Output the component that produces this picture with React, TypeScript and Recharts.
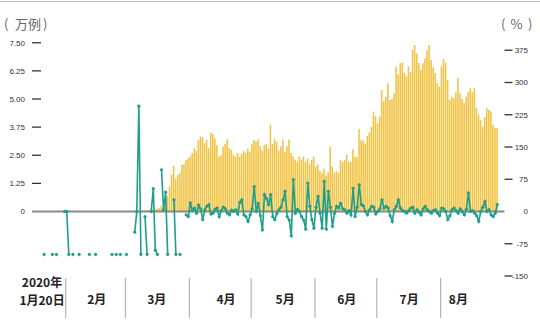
import { Bar, ComposedChart, Line, ReferenceLine, XAxis, YAxis } from "recharts";

// 每日新增病例（万例），2020-01-20 起
const casesJan = [0, 0, 0, 0, 0, 0, 0, 0, 0, 0, 0, 0];
const casesFeb = [
  0, 0, 0, 0, 0, 0, 0, 0, 0, 0, 0, 0, 0, 0, 0, 0, 0, 0, 0, 0, 0, 0, 0, 0, 0, 0,
  0, 0, 0,
];
const casesMar = [
  0, 0, 0, 0, 0.01, 0.01, 0.02, 0.03, 0.04, 0.05, 0.06, 0.07, 0.08, 0.09, 0.1,
  0.12, 0.15, 0.25, 0.3, 0.45, 0.7, 1.1, 1.63, 2.03, 1.45, 1.64, 1.7, 2.07, 2.1,
  2.29, 2.35,
];
const casesApr = [
  2.44, 2.59, 2.81, 2.7, 3.18, 3.33, 3.3, 3.04, 3.18, 2.81, 3.51, 3.45, 3.26,
  2.96, 2.44, 2.5, 2.89, 3.0, 3.21, 2.81, 2.75, 2.52, 2.44, 2.6, 2.45, 2.55, 2.7,
  2.6, 2.8, 2.65,
];
const casesMay = [
  3.0, 3.18, 3.1, 3.2, 2.9, 2.7, 2.96, 3.0, 2.8, 3.85, 3.0, 3.21, 3.1, 2.7, 2.9,
  3.2, 2.66, 2.9, 3.21, 2.6, 2.44, 2.3, 2.2, 2.44, 2.3, 2.44, 2.2, 2.35, 2.1, 2.3,
  2.44,
];
const casesJun = [
  2.0, 2.1, 1.8, 1.7, 1.9, 1.6, 1.75, 2.89, 2.0, 1.72, 1.8, 1.72, 2.29, 2.2,
  2.29, 2.52, 2.22, 2.2, 2.77, 2.44, 2.4, 3.66, 3.18, 3.15, 3.0, 3.36, 3.5, 3.77,
  4.44, 4.22,
];
const casesJul = [
  3.92, 4.22, 5.4, 4.9, 5.1, 5.7, 4.96, 5.0, 5.25, 6.44, 6.1, 6.59, 6.62, 6.15,
  6.0, 6.45, 6.2, 7.18, 7.4, 7.03, 6.6, 6.29, 6.59, 6.8, 7.18, 7.4, 6.73, 6.4,
  6.15, 5.7, 5.55,
];
const casesAug = [
  6.45, 6.78, 6.62, 5.85, 4.96, 5.1, 5.03, 5.3, 5.96, 5.25, 5.0, 4.82, 5.1, 5.3,
  5.5, 5.3, 5.48, 4.6, 4.3, 4.07, 3.77, 4.2, 4.59, 4.51, 4.44, 3.85, 3.7, 3.7,
];

// 新增病例日环比（%），null 表示无数据
const rateJan = [null, -100, null, null, null, -100, null, -100, null, null, null, 0];
const rateFeb = [
  0, -100, null, -100, null, null, -100, null, null, null, null, -100, null,
  null, -100, null, null, null, null, null, null, null, -100, null, -100, null,
  -100, null, null,
];
const rateMar = [
  -100, null, null, null, -48, 0, 245, -100, null, -12, -100, null, 0, 53, -90,
  -100, null, 97, 4, 45, -100, null, null, 27, -100, null, -100, null, null, -8,
  -12,
];
const rateApr = [
  20, 2, 8, -4, 15, 6, -19, 4, 12, 16, -6, -4, 5, 8, -12, 2, 10, 6, -4, -8, 3, 0,
  4, -6, 21, 27, -8, -12, -23, -8,
];
const rateMay = [
  6, 58, 0, 19, -10, -43, 39, 30, 16, 39, -12, -19, -5, 4, 10, 27, 47, -12, -20,
  -57, 74, -4, 5, 0, -12, -20, -41, 66, 12, -19, -39,
];
const rateJun = [
  10, 35, -4, -39, 70, -41, 47, 10, -35, -4, 12, 8, 19, 6, 4, -4, 2, -8, 54, -12,
  10, 62, 16, 13, 0, -8, 4, 12, 10, -6,
];
const rateJul = [
  0, 6, 27, 8, 12, 8, -10, -23, 4, 12, 27, 8, 2, 0, -4, 2, 8, 10, -4, 4, -2, -8,
  6, 12, 4, 0, -4, 2, 4, -4, -10,
];
const rateAug = [
  8, 6, 0, -19, -10, 4, 8, 2, -4, 6, 0, -8, 5, 43, 0, 2, -4, -10, -23, 0, 10, 23,
  0, 4, -8, -12, -4, 16,
];

const cases = [
  ...casesJan, ...casesFeb, ...casesMar, ...casesApr,
  ...casesMay, ...casesJun, ...casesJul, ...casesAug,
];
const rate = [
  ...rateJan, ...rateFeb, ...rateMar, ...rateApr,
  ...rateMay, ...rateJun, ...rateJul, ...rateAug,
];

const data = cases.map((v, i) => ({ day: i, cases: v, rate: rate[i] }));

// 月份分隔（天序号）与月份标签
const monthEdges = [11.5, 40.5, 71.5, 101.5, 132.5, 162.5, 193.5];
const monthLabels = ["2月", "3月", "4月", "5月", "6月", "7月", "8月"];
const monthLabelDays = [26.6, 55.7, 89.3, 118, 147.9, 178.2, 202.1];
const xTicks = [0, ...monthEdges, ...monthLabelDays].sort((a, b) => a - b);

const leftTicks = [0, 1.25, 2.5, 3.75, 5, 6.25, 7.5];
const rightTicks = [-150, -75, 0, 75, 150, 225, 300, 375];

const BAR = "#f2c446";
const TEAL = "#1f9e8c";
const CJK = '"Noto Sans CJK SC", "Noto Sans", sans-serif';
const NUM = '"Liberation Sans", Arial, sans-serif';

function XTick({ x, y, payload }: any) {
  const v = payload.value;
  if (monthEdges.includes(v)) {
    return <line x1={x} x2={x} y1={y + 2} y2={y + 42} stroke="#b3b3b3" strokeWidth={1.2} />;
  }
  const style = { fontFamily: CJK, fontSize: 12, fontWeight: 600, fill: "#222" };
  if (v === 0) {
    return (
      <g>
        <text x={x} y={y + 10.5} textAnchor="middle" style={style}>2020年</text>
        <text x={x} y={y + 29} textAnchor="middle" style={style}>1月20日</text>
      </g>
    );
  }
  const i = monthLabelDays.indexOf(v);
  return (
    <text x={x} y={y + 28} textAnchor="middle" style={style}>
      {monthLabels[i]}
    </text>
  );
}

function LeftTick({ x, y, payload }: any) {
  const v = payload.value;
  return (
    <g>
      {v !== 0 && (
        <line x1={x + 7} x2={x + 16} y1={y} y2={y} stroke="#333" strokeWidth={1.3} />
      )}
      <text x={x} y={y} dy="0.35em" textAnchor="end" fontSize={8} fill="#333" fontFamily={NUM}>
        {v === 0 ? "0" : v.toFixed(2)}
      </text>
    </g>
  );
}

function RightTick({ x, y, payload }: any) {
  const v = payload.value;
  return (
    <g>
      {v !== 0 && (
        <line x1={x - 23.5} x2={x - 15.5} y1={y} y2={y} stroke="#333" strokeWidth={1.3} />
      )}
      <text x={x} y={y} dy="0.35em" textAnchor="end" fontSize={8} fill="#333" fontFamily={NUM}>
        {v}
      </text>
    </g>
  );
}

export default function App() {
  const unit = { fontSize: 13, fill: "#666", fontFamily: CJK };
  return (
    <div style={{ position: "absolute", left: 0, top: 0, width: 540, height: 320, background: "#fff" }}>
      <ComposedChart
        width={540}
        height={320}
        data={data}
        margin={{ top: 18, right: 0, bottom: 0, left: 0 }}
      >
        <XAxis
          type="number"
          dataKey="day"
          domain={[-0.5, 224.5]}
          ticks={xTicks}
          interval={0}
          tick={XTick}
          tickLine={false}
          axisLine={false}
          tickSize={0}
          tickMargin={0}
          height={44}
        />
        <YAxis
          yAxisId="l"
          orientation="left"
          domain={[-2.8667, 8.6]}
          ticks={leftTicks}
          interval={0}
          allowDataOverflow
          width={41}
          axisLine={false}
          tickLine={false}
          tickSize={9}
          tickMargin={7}
          tick={LeftTick}
        />
        <YAxis
          yAxisId="r"
          orientation="right"
          domain={[-150, 450]}
          ticks={rightTicks}
          interval={0}
          allowDataOverflow
          width={35.5}
          axisLine={false}
          tickLine={false}
          tickSize={8}
          tickMargin={15.5}
          tick={RightTick}
        />
        <Bar yAxisId="l" dataKey="cases" fill={BAR} barSize={1.6} isAnimationActive={false} />
        <ReferenceLine
          yAxisId="l"
          segment={[{ x: -4.8, y: 0 }, { x: 224.5, y: 0 }]}
          stroke="#8a8a8a"
          strokeWidth={1.8}
          ifOverflow="visible"
        />
        <Line
          yAxisId="r"
          dataKey="rate"
          type="linear"
          stroke={TEAL}
          strokeWidth={1.6}
          dot={{ r: 1.4, fill: TEAL, stroke: TEAL, strokeWidth: 0.4 }}
          connectNulls={false}
          isAnimationActive={false}
        />
      </ComposedChart>
      <svg
        width={540}
        height={320}
        style={{ position: "absolute", left: 0, top: 0, pointerEvents: "none" }}
      >
        <line x1={0} x2={540} y1={1.5} y2={1.5} stroke="#bdbdbd" strokeWidth={1.2} />
        <text x={4} y={29} style={unit}>(</text>
        <text x={15} y={29} style={unit}>万例</text>
        <text x={43} y={29} style={unit}>)</text>
        <text x={501} y={29} style={unit}>(</text>
        <text x={516.5} y={29} textAnchor="middle" style={unit}>%</text>
        <text x={528} y={29} style={unit}>)</text>
      </svg>
    </div>
  );
}
